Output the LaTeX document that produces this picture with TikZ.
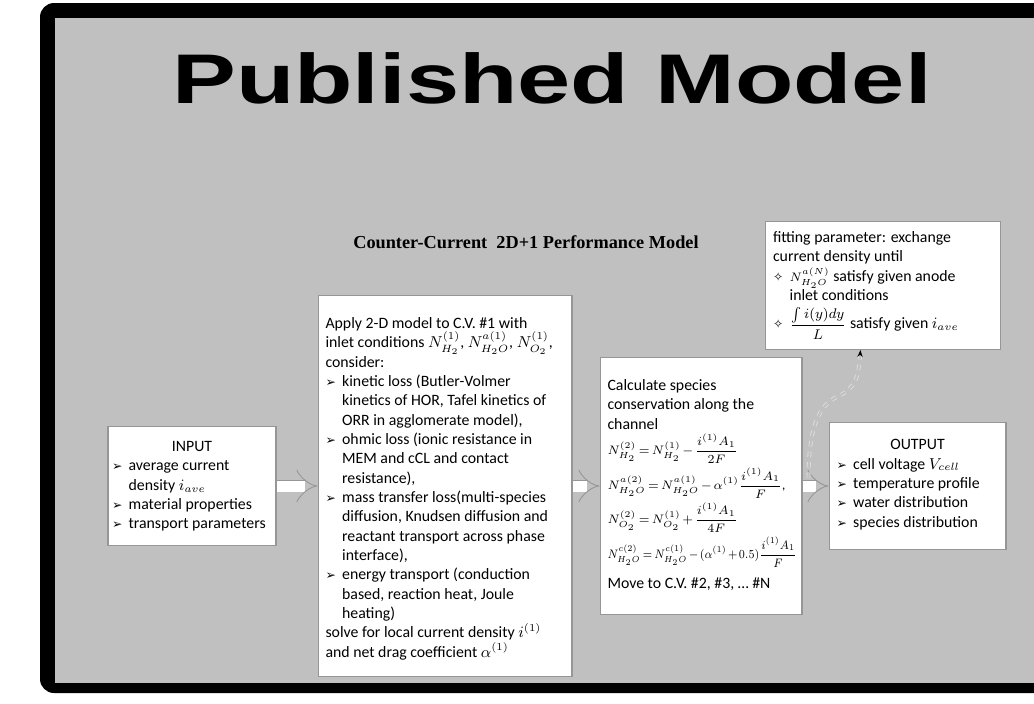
\documentclass[tikz,border=0pt]{standalone}
\usepackage{amsmath}
\usepackage{graphicx}
\usepackage{fontspec}
\setmainfont{Carlito}
\newfontfamily\titlefont{Liberation Sans}
\newfontfamily\subfont{Liberation Serif}
\newfontfamily\symfont{DejaVu Sans}
\usepackage{tikz}
\usetikzlibrary{arrows.meta,positioning,calc}
\definecolor{bggray}{RGB}{192,192,192}
\definecolor{boxline}{RGB}{150,150,150}
% bullets with hanging indent
\newcommand{\nl}{\hfil\break}
\newcommand{\bul}{\par\hangindent=1.05em\hangafter=1\noindent\makebox[1.05em][l]{\symfont\fontsize{7}{6}\selectfont ➢}}
\newcommand{\dia}{\par\hangindent=1.05em\hangafter=1\noindent\makebox[1.05em][l]{\symfont\fontsize{7}{6}\selectfont ✧}}
\newcommand{\eqline}[1]{\par\vspace{1.5pt}\noindent{\fontsize{7.4}{9}\selectfont\mbox{#1}}}
% width, height, top skip, text
\newcommand{\boxbody}[4]{\parbox[c][#2][t]{#1}{\fontsize{9}{11}\selectfont\raggedright
  \medmuskip=2mu\thickmuskip=3mu\vspace*{#3}#4}}
\tikzset{
  box/.style={draw=boxline, fill=white, line width=.6pt, inner sep=.15cm},
  hollow/.style={draw=boxline, double=white, double distance=2.2mm, line width=.5pt, -{Implies}},
  loopback/.style={draw=white!75!gray, double=bggray, double distance=1.2pt, line width=.5pt, dashed,
    -{Stealth[length=1.4mm,black]}},
  headline/.style={font=\titlefont\bfseries\fontsize{40}{40}\selectfont},
  subline/.style={font=\subfont\bfseries\fontsize{10.4}{12}\selectfont}
}

\begin{document}
\begin{tikzpicture}[x=0.02cm, y=-0.02cm]
  \useasboundingbox[fill=white] (0,0) rectangle (1034,703);
  \clip (0,0) rectangle (1034,703);
  \fill[black, rounded corners=8pt] (40,3) rectangle (1070,693);
  \fill[bggray] (55,18) rectangle (1040,683);

  \node[headline] (title) at (552,78) {\scalebox{1.36}[1]{Published Model}};
  \node[subline] (sub) at (526,242) {Counter-Current\ \ 2D+1 Performance Model};

  \node[box, inner xsep=.08cm] (inp) at (192,486) {\boxbody{3.2cm}{2.08cm}{.15cm}{%
    \centerline{INPUT}
    \bul average current\nl density $i_{ave}$
    \bul material properties
    \bul transport parameters}};
  \node[box, right=.82cm of inp] (mid) {\boxbody{4.78cm}{7.34cm}{.3cm}{%
    Apply 2-D model to C.V. \#1 with\nl
    inlet conditions $N^{(1)}_{H_2}$, $N^{a(1)}_{H_2O}$, $N^{(1)}_{O_2}$,\nl
    consider:
    \bul kinetic loss (Butler-Volmer\nl kinetics of HOR, Tafel kinetics of\nl ORR in agglomerate model),
    \bul ohmic loss (ionic resistance in\nl MEM and cCL and contact\nl resistance),
    \bul mass transfer loss(multi-species\nl diffusion, Knudsen diffusion and\nl reactant transport across phase\nl interface),
    \bul energy transport (conduction\nl based, reaction heat, Joule\nl heating)
    \par solve for local current density $i^{(1)}$\nl
    and net drag coefficient $\alpha^{(1)}$}};
  \node[box, right=.54cm of mid] (calc) {\boxbody{3.74cm}{4.84cm}{.29cm}{%
    Calculate species\nl conservation along the\nl channel
    \eqline{$N^{(2)}_{H_2}=N^{(1)}_{H_2}-\dfrac{i^{(1)}A_1}{2F}$}
    \eqline{$N^{a(2)}_{H_2O}=N^{a(1)}_{H_2O}-\alpha^{(1)}\dfrac{i^{(1)}A_1}{F}$,}
    \eqline{$N^{(2)}_{O_2}=N^{(1)}_{O_2}+\dfrac{i^{(1)}A_1}{4F}$}
    \eqline{\scalebox{.87}[1]{$N^{c(2)}_{H_2O}=N^{c(1)}_{H_2O}-(\alpha^{(1)}+0.5)\dfrac{i^{(1)}A_1}{F}$}}
    \par\vspace{5pt} Move to C.V. \#2, \#3, \dots\ \#N}};
  \node[box, right=.52cm of calc] (out) {\boxbody{3.24cm}{2.24cm}{.19cm}{%
    \centerline{OUTPUT}
    \bul cell voltage $V_{cell}$
    \bul temperature profile
    \bul water distribution
    \bul species distribution}};
  \node[box, anchor=south west] (fit) at (765,350) {\boxbody{4.4cm}{2.26cm}{.05cm}{%
    fitting parameter: exchange\nl current density until
    \dia {\fontsize{7.5}{9}\selectfont$N^{a(N)}_{H_2O}$} satisfy given anode\nl inlet conditions
    \par\vspace{3pt}
    \dia {\fontsize{8}{9}\selectfont$\dfrac{\int i(y)dy}{L}$} satisfy given $i_{ave}$}};

  \draw[hollow] (inp) -- (inp -| mid.west);
  \draw[hollow] (calc -| mid.east) -- (calc);
  \draw[hollow] (calc) -- (calc -| out.west);

  \coordinate (tap) at ($(calc.east)+(6,-8)$);
  \coordinate (fend) at ([xshift=-.45cm]fit.south);
  \draw[loopback] (tap) .. controls ($(tap)+(0,-60)$) and ($(tap)+(15,-75)$) .. ($(tap)+(30,-82)$)
    .. controls ($(tap)+(48,-90)$) and ($(fend)+(-2,25)$) .. (fend);
\end{tikzpicture}
\end{document}
